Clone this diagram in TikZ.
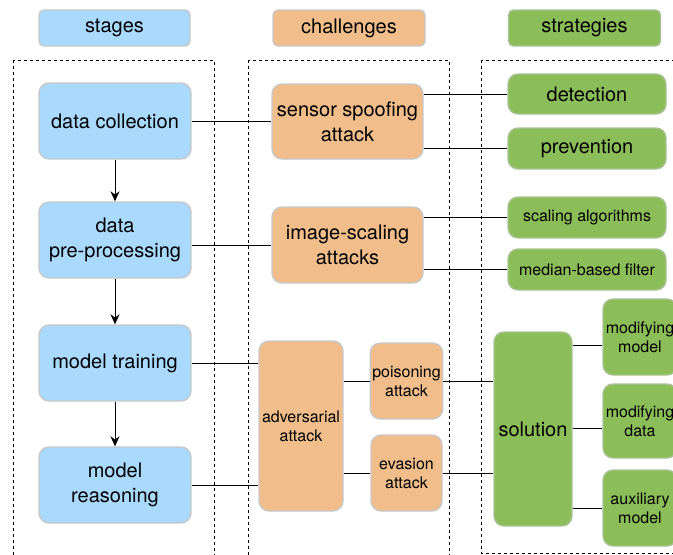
\documentclass[tikz,border=0pt]{standalone}
\usepackage{fontspec}
\setmainfont{TeX Gyre Heros}
\usetikzlibrary{arrows.meta}
\definecolor{stageblue}{RGB}{169,218,253}
\definecolor{challorange}{RGB}{241,190,139}
\definecolor{stratgreen}{RGB}{139,190,88}
\definecolor{edgegray}{RGB}{200,200,200}
\definecolor{edgegreen}{RGB}{170,195,150}
\tikzset{
  card/.style={draw=edgegray, line width=0.7pt, rounded corners=5pt, align=center,
    inner sep=1pt, font=\fontsize{10}{12.5}\selectfont},
  smalltext/.style={font=\fontsize{8}{9.5}\selectfont},
  bluebox/.style={card, fill=stageblue},
  orangebox/.style={card, fill=challorange},
  greenbox/.style={card, fill=stratgreen, draw=edgegreen},
  header/.style={rounded corners=2.5pt},
  lane/.style={draw=black, line width=0.5pt, dash pattern=on 1.5pt off 1.5pt},
  link/.style={draw=black, line width=0.5pt},
  flow/.style={link, -{Stealth[length=5pt,width=4.5pt]}},
  sz/.style 2 args={minimum width=#1*0.5pt, minimum height=#2*0.5pt},
}
\begin{document}
\begin{tikzpicture}[x=0.5pt, y=-0.5pt]
\useasboundingbox (0,0) rectangle (673,554);

% column frames
\draw[lane] (13,60) rectangle (214,580);
\draw[lane] (248,60) rectangle (449,580);
\draw[lane] (481,60) rectangle (700,553);

% column headers
\node[bluebox, header, sz={151}{36}] (stg) at (114.5,28) {stages};
\node[orangebox, header, sz={152}{36}] (chl) at (349,28) {challenges};
\node[greenbox, header, sz={152}{36}] (str) at (584.5,28) {strategies};

% stages
\node[bluebox, sz={152}{76}] (dc) at (115,121) {data collection};
\node[bluebox, sz={152}{76}] (dp) at (115,240) {data\\pre-processing};
\node[bluebox, sz={152}{76}] (mt) at (115,363) {model training};
\node[bluebox, sz={152}{76}] (mr) at (115,485) {model\\reasoning};

% challenges
\node[orangebox, sz={151}{75}] (ssa) at (347.5,121.5) {sensor spoofing\\attack};
\node[orangebox, sz={151}{76}] (isa) at (347.5,245) {image-scaling\\attacks};
\node[orangebox, smalltext, sz={84}{170}] (adv) at (301,426) {adversarial\\attack};
\node[orangebox, smalltext, sz={71}{76}] (pois) at (406.5,381) {poisoning\\attack};
\node[orangebox, smalltext, sz={71}{76}] (eva) at (406.5,473) {evasion\\attack};

% strategies
\node[greenbox, sz={158}{40}] (det) at (587,94) {detection};
\node[greenbox, sz={158}{41}] (prev) at (587,148.5) {prevention};
\node[greenbox, smalltext, sz={158}{41}] (sca) at (587,217.5) {scaling algorithms};
\node[greenbox, smalltext, sz={158}{41}] (med) at (587,269.5) {median-based filter};
\node[greenbox, sz={78}{194}] (sol) at (533,429) {solution};
\node[greenbox, smalltext, sz={74}{76}] (mm) at (640,337) {modifying\\model};
\node[greenbox, smalltext, sz={74}{74}] (md) at (640,421) {modifying\\data};
\node[greenbox, smalltext, sz={74}{76}] (aux) at (640,508) {auxiliary\\model};

% stage sequence
\draw[flow] (dc) -- (dp);
\draw[flow] (dp) -- (mt);
\draw[flow] (mt) -- (mr);

% stage to challenge
\draw[link] (dc.east) -- (dc.east -| ssa.west);
\draw[link] (dp.east |- isa) -- (isa.west);
\draw[link] (mt.east) -- (mt.east -| adv.west);
\draw[link] (mr.east) -- (mr.east -| adv.west);

% challenge to strategy
\draw[link] (ssa.east |- det) -- (det.west);
\draw[link] (ssa.east |- prev) -- (prev.west);
\draw[link] (isa.east |- sca) -- (sca.west);
\draw[link] (isa.east |- med) -- (med.west);
\draw[link] (adv.east |- pois) -- (pois.west);
\draw[link] (adv.east |- eva) -- (eva.west);
\draw[link] (pois.east) -- (pois.east -| sol.west);
\draw[link] (eva.east) -- (eva.east -| sol.west);

% solution branches
\draw[link] ([yshift=-4pt]sol.east |- mm.west) -- ([yshift=-4pt]mm.west);
\draw[link] ([yshift=-3.5pt]sol.east |- md.west) -- ([yshift=-3.5pt]md.west);
\draw[link] (sol.east |- aux.west) -- (aux.west);
\end{tikzpicture}
\end{document}
